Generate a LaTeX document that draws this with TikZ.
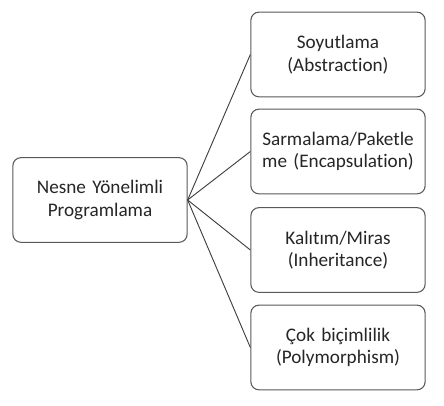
\documentclass[tikz,border=0pt]{standalone}
\usepackage{fontspec}
\setmainfont{Carlito}[Ligatures=NoCommon]
\definecolor{ink}{HTML}{262626}
\definecolor{edge}{HTML}{595959}
\definecolor{wire}{HTML}{404040}

\begin{document}
\begin{tikzpicture}[x=0.75pt,y=0.75pt,text=ink,
  box/.style={draw=edge,line width=0.8pt,rounded corners=6pt,fill=white,align=center,
    minimum width=127.5pt,minimum height=63.5pt,text width=124pt,
    font=\fontsize{14.4}{16.8}\selectfont}]
  \useasboundingbox (0,0) rectangle (444,406);
  \node[box] (oop) at (100,206) {Nesne Yönelimli\\Programlama};
  \node[box] (abs) at (338,351.5) {Soyutlama\\(Abstraction)};
  \node[box] (enc) at (338,254.5) {Sarmalama/Paketle\\me (Encapsulation)};
  \node[box] (inh) at (338,156) {Kalıtım/Miras\\(Inheritance)};
  \node[box] (pol) at (338,58.5) {Çok biçimlilik\\(Polymorphism)};
  \foreach \t in {abs,enc,inh,pol}
    \draw[wire,line width=0.7pt] (oop.east) -- (\t.west);
\end{tikzpicture}
\end{document}
